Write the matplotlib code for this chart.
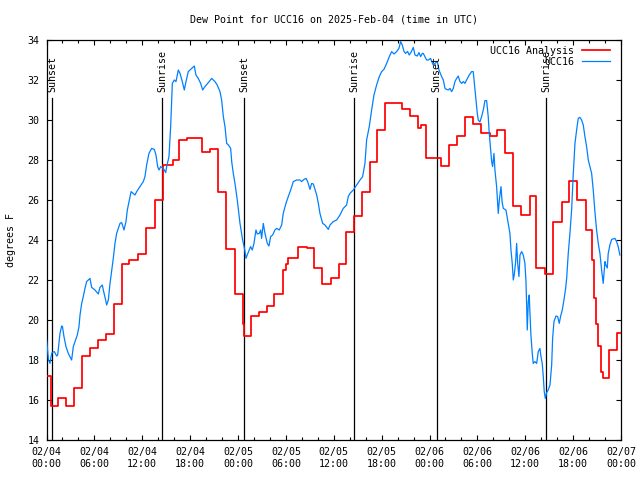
"""Dew point at UCC16, 2025-02-04 .. 2025-02-07 (UTC), redrawn in gnuplot style.

Writes out.png (640x480).
"""

import matplotlib
matplotlib.use("Agg")
import matplotlib.dates as mdates
import matplotlib.pyplot as plt
import pandas as pd

START = pd.Timestamp("2025-02-04 00:00")

# Hourly analysis (held flat between updates) - change time in hours after START.
ANALYSIS_HOURS = [
    0.0, 0.6, 1.5, 2.5, 3.5, 4.5, 5.5, 6.5, 7.5, 8.5, 9.5, 10.4, 11.5, 12.5,
    13.6, 14.6, 15.8, 16.6, 17.6, 19.5, 20.5, 21.5, 22.5, 23.6, 24.6, 24.7,
    25.6, 26.6, 27.6, 28.5, 29.6, 30.0, 30.3, 31.5, 32.7, 33.5, 34.5, 35.6,
    36.6, 37.5, 38.5, 39.6, 40.5, 41.4, 42.4, 44.6, 45.6, 46.6, 46.9, 47.5,
    49.5, 50.5, 51.4, 52.4, 53.5, 54.5, 55.6, 56.5, 57.5, 58.5, 59.5, 60.6,
    61.4, 62.5, 63.5, 64.6, 65.5, 66.5, 67.6, 68.4, 68.6, 68.9, 69.1, 69.5,
    69.7, 70.5, 71.5, 72.0,
]
ANALYSIS_DEWPT = [
    17.2, 15.7, 16.1, 15.7, 16.6, 18.2, 18.6, 19.0, 19.3, 20.8, 22.8, 23.0,
    23.3, 24.6, 26.0, 27.75, 28.0, 29.0, 29.1, 28.4, 28.55, 26.4, 23.55, 21.3,
    19.8, 19.2, 20.2, 20.4, 20.7, 21.3, 22.5, 22.8, 23.1, 23.65, 23.6, 22.6,
    21.8, 22.1, 22.8, 24.4, 25.2, 26.4, 27.9, 29.5, 30.85, 30.55, 30.2, 29.6,
    29.75, 28.1, 27.7, 28.75, 29.2, 30.15, 29.8, 29.35, 29.2, 29.5, 28.35,
    25.7, 25.25, 26.2, 22.6, 22.3, 24.9, 25.9, 26.95, 26.0, 24.5, 23.0, 21.1,
    19.8, 18.7, 17.4, 17.1, 18.5, 19.35, 19.35,
]

# UCC16 observations (about 5-minute reports).
OBS_HOURS = [
    0.02, 0.25, 0.44, 0.57, 0.69, 0.98, 1.27, 1.4, 1.69, 1.9, 2.0, 2.19, 2.44,
    2.73, 3.15, 3.36, 3.57, 3.86, 4.07, 4.2, 4.41, 4.61, 4.82, 5.03, 5.45,
    5.66, 6.07, 6.49, 6.7, 6.99, 7.12, 7.41, 7.54, 7.75, 7.96, 8.16, 8.37,
    8.58, 8.79, 9.0, 9.21, 9.42, 9.71, 9.96, 10.13, 10.38, 10.6, 11.09, 11.3,
    11.72, 12.13, 12.34, 12.55, 12.84, 13.18, 13.51, 13.72, 13.93, 14.1,
    14.31, 14.64, 14.94, 15.06, 15.35, 15.56, 15.77, 16.02, 16.23, 16.52,
    16.73, 17.02, 17.27, 17.48, 17.77, 18.19, 18.52, 18.73, 19.02, 19.32,
    19.57, 19.86, 20.28, 20.7, 21.11, 21.4, 21.74, 21.95, 22.16, 22.37,
    22.58, 22.8, 23.08, 23.21, 23.41, 23.62, 23.91, 24.25, 24.58, 24.85,
    25.0, 25.3, 25.58, 25.79, 26.0, 26.25, 26.42, 26.67, 26.84, 26.96, 27.17,
    27.38, 27.67, 27.88, 28.09, 28.34, 28.63, 28.84, 29.17, 29.47, 29.67,
    30.01, 30.3, 30.6, 30.93, 31.35, 31.77, 31.98, 32.27, 32.52, 32.73,
    33.02, 33.23, 33.44, 33.65, 33.86, 34.07, 34.27, 34.61, 34.9, 35.32,
    35.53, 35.94, 36.36, 36.78, 37.19, 37.61, 37.82, 38.03, 38.45, 38.87,
    39.29, 39.62, 39.91, 40.12, 40.45, 40.75, 41.04, 41.37, 41.71, 42.0,
    42.29, 42.63, 42.96, 43.26, 43.55, 43.88, 44.17, 44.38, 44.59, 44.8,
    45.0, 45.25, 45.46, 45.67, 45.97, 46.18, 46.47, 46.68, 46.89, 47.1,
    47.22, 47.43, 47.64, 47.85, 48.13, 48.47, 48.68, 48.98, 49.19, 49.52,
    49.73, 49.94, 50.15, 50.35, 50.56, 50.77, 50.98, 51.19, 51.4, 51.6,
    51.82, 52.03, 52.24, 52.44, 52.65, 52.98, 53.28, 53.48, 53.7, 53.82,
    53.99, 54.11, 54.32, 54.53, 54.74, 54.95, 55.16, 55.36, 55.49, 55.66,
    55.79, 55.91, 56.08, 56.2, 56.41, 56.62, 56.75, 56.96, 57.1, 57.25,
    57.58, 57.87, 58.08, 58.21, 58.37, 58.5, 58.62, 58.8, 58.92, 59.05,
    59.21, 59.34, 59.55, 59.75, 59.96, 60.09, 60.18, 60.25, 60.38, 60.5,
    60.59, 60.71, 60.88, 61.0, 61.21, 61.43, 61.63, 61.84, 61.97, 62.13,
    62.26, 62.38, 62.51, 62.68, 62.88, 63.1, 63.31, 63.43, 63.6, 63.85,
    64.06, 64.26, 64.44, 64.64, 64.85, 65.06, 65.19, 65.39, 65.6, 65.81,
    66.02, 66.23, 66.44, 66.64, 66.85, 67.06, 67.27, 67.48, 67.69, 67.9,
    68.11, 68.32, 68.52, 68.73, 68.94, 69.15, 69.36, 69.57, 69.77, 69.99,
    70.1, 70.28, 70.4, 70.61, 70.83, 71.24, 71.45, 71.65, 71.86,
]
OBS_DEWPT = [
    19.0, 18.0, 17.83, 18.17, 18.37, 18.42, 18.2, 18.25, 19.33, 19.7, 19.67,
    19.17, 18.67, 18.33, 18.0, 18.67, 18.92, 19.25, 19.67, 20.25, 20.83,
    21.17, 21.58, 21.92, 22.08, 21.63, 21.5, 21.3, 21.63, 21.75, 21.5, 21.0,
    20.75, 21.0, 21.83, 22.42, 23.08, 23.83, 24.33, 24.58, 24.83, 24.87, 24.5,
    24.92, 25.5, 26.0, 26.42, 26.25, 26.42, 26.67, 26.92, 27.17, 27.75, 28.33,
    28.58, 28.53, 28.25, 27.67, 27.5, 27.67, 27.58, 27.37, 27.67, 28.17,
    29.67, 31.83, 32.0, 31.92, 32.5, 32.33, 31.92, 31.5, 31.92, 32.42, 32.58,
    32.7, 32.25, 32.08, 31.83, 31.5, 31.67, 31.87, 32.08, 31.92, 31.75,
    31.42, 31.0, 30.17, 29.67, 28.83, 28.75, 28.58, 27.92, 27.33, 26.83,
    26.0, 24.83, 24.0, 23.5, 23.08, 23.4, 23.67, 23.5, 23.83, 24.5, 24.3,
    24.33, 24.5, 24.08, 24.83, 24.33, 23.83, 23.7, 24.17, 24.25, 24.5, 24.58,
    24.5, 24.75, 25.33, 25.83, 26.17, 26.5, 26.92, 27.0, 27.0, 26.92, 27.03,
    27.08, 26.92, 26.53, 26.83, 26.8, 26.53, 26.25, 25.83, 25.33, 24.83,
    24.75, 24.53, 24.75, 24.92, 25.0, 25.25, 25.58, 25.75, 26.17, 26.33,
    26.5, 26.75, 27.0, 27.17, 27.83, 29.0, 29.67, 30.5, 31.25, 31.75, 32.17,
    32.42, 32.53, 32.83, 33.17, 33.42, 33.3, 33.42, 33.58, 33.92, 33.75,
    33.43, 33.33, 33.43, 33.25, 33.37, 33.63, 33.25, 33.2, 33.37, 33.17,
    33.33, 33.33, 33.17, 33.0, 33.0, 33.08, 32.75, 32.83, 32.92, 32.5, 32.17,
    32.0, 31.58, 31.53, 31.5, 31.58, 31.42, 31.58, 31.92, 32.08, 32.2, 31.92,
    31.83, 31.92, 31.83, 32.0, 32.25, 32.42, 32.42, 31.5, 31.0, 30.33, 30.0,
    29.9, 30.17, 30.5, 30.97, 30.97, 30.17, 29.33, 28.5, 27.92, 27.67, 28.33,
    27.5, 26.67, 25.33, 26.0, 26.67, 25.9, 25.58, 25.5, 24.83, 24.33, 23.5,
    22.83, 22.0, 22.25, 22.92, 23.83, 22.83, 22.17, 23.25, 23.42, 23.25,
    22.83, 21.92, 20.67, 19.5, 20.92, 21.25, 20.33, 19.25, 18.33, 17.83,
    17.92, 17.83, 18.42, 18.58, 18.17, 17.83, 17.17, 16.42, 16.08, 16.37,
    16.5, 16.75, 17.75, 19.08, 19.92, 20.2, 20.17, 19.83, 20.2, 20.5, 21.0,
    21.58, 22.08, 23.33, 24.33, 25.5, 27.33, 28.83, 29.5, 30.08, 30.13, 30.0,
    29.75, 29.17, 28.67, 28.0, 27.67, 27.33, 26.5, 25.42, 24.5, 23.83, 23.33,
    22.5, 21.83, 22.92, 22.75, 22.6, 23.33, 23.75, 24.03, 24.08, 23.92,
    23.67, 23.25,
]

# Sunrise / sunset markers, hours after START.
SUN_HOURS = [0.73, 14.51, 24.79, 38.58, 48.9, 62.63]
SUN_LABELS = ["Sunset", "Sunrise", "Sunset", "Sunrise", "Sunset", "Sunrise"]

Y_MIN, Y_MAX = 14, 34
Y_TICKS = list(range(14, 35, 2))

TITLE = "Dew Point for UCC16 on 2025-Feb-04 (time in UTC)"


def to_time(hours):
    return START + pd.to_timedelta(hours, unit="h")


def main() -> None:
    plt.rcParams["font.family"] = ["DejaVu Sans Mono"]
    plt.rcParams["font.size"] = 7.2

    fig = plt.figure(figsize=(6.4, 4.8), dpi=100)
    ax = fig.add_axes([46.5 / 640, 40 / 480, 574.5 / 640, 400 / 480])

    ax.plot(to_time(ANALYSIS_HOURS), ANALYSIS_DEWPT, color="#ff0000",
            lw=1.25, drawstyle="steps-post", label="UCC16 Analysis", zorder=3)
    ax.plot(to_time(OBS_HOURS), OBS_DEWPT, color="#0080ff",
            lw=0.9, label="UCC16", zorder=4)

    # day/night markers: a thin line up from the bottom, label on top
    for h, name in zip(SUN_HOURS, SUN_LABELS):
        t = to_time(h)
        ax.plot([t, t], [Y_MIN, 31.1], color="black", lw=0.9, zorder=2)
        ax.text(t, 31.4, name, rotation=90, ha="center", va="bottom",
                fontsize=7.2, zorder=5)

    ax.set_xlim(to_time(0), to_time(72))
    ax.set_ylim(Y_MIN, Y_MAX)
    ax.set_yticks(Y_TICKS)

    ax.xaxis.set_major_locator(mdates.HourLocator(byhour=[0, 6, 12, 18]))
    ax.xaxis.set_minor_locator(mdates.HourLocator(interval=2))
    ax.xaxis.set_major_formatter(mdates.DateFormatter("%m/%d\n%H:%M"))

    ax.tick_params(which="both", direction="in", top=True, right=True,
                   width=0.8, colors="black")
    ax.tick_params(which="major", length=3.6, pad=5)
    ax.tick_params(which="minor", length=1.9)
    for spine in ax.spines.values():
        spine.set_linewidth(0.9)

    ax.set_ylabel("degrees F")
    ax.yaxis.set_label_coords(-0.053, 0.5)

    fig.text((46.5 + 621) / 2 / 640, 1 - 19 / 480, TITLE,
             ha="center", va="center")

    ax.legend(loc="upper right", bbox_to_anchor=(0.981, 0.985), frameon=False,
              markerfirst=False, borderaxespad=0, borderpad=0,
              handlelength=2.8, handletextpad=0.8, labelspacing=0.1)

    fig.savefig("out.png", dpi=100)
    plt.close(fig)


if __name__ == "__main__":
    main()
